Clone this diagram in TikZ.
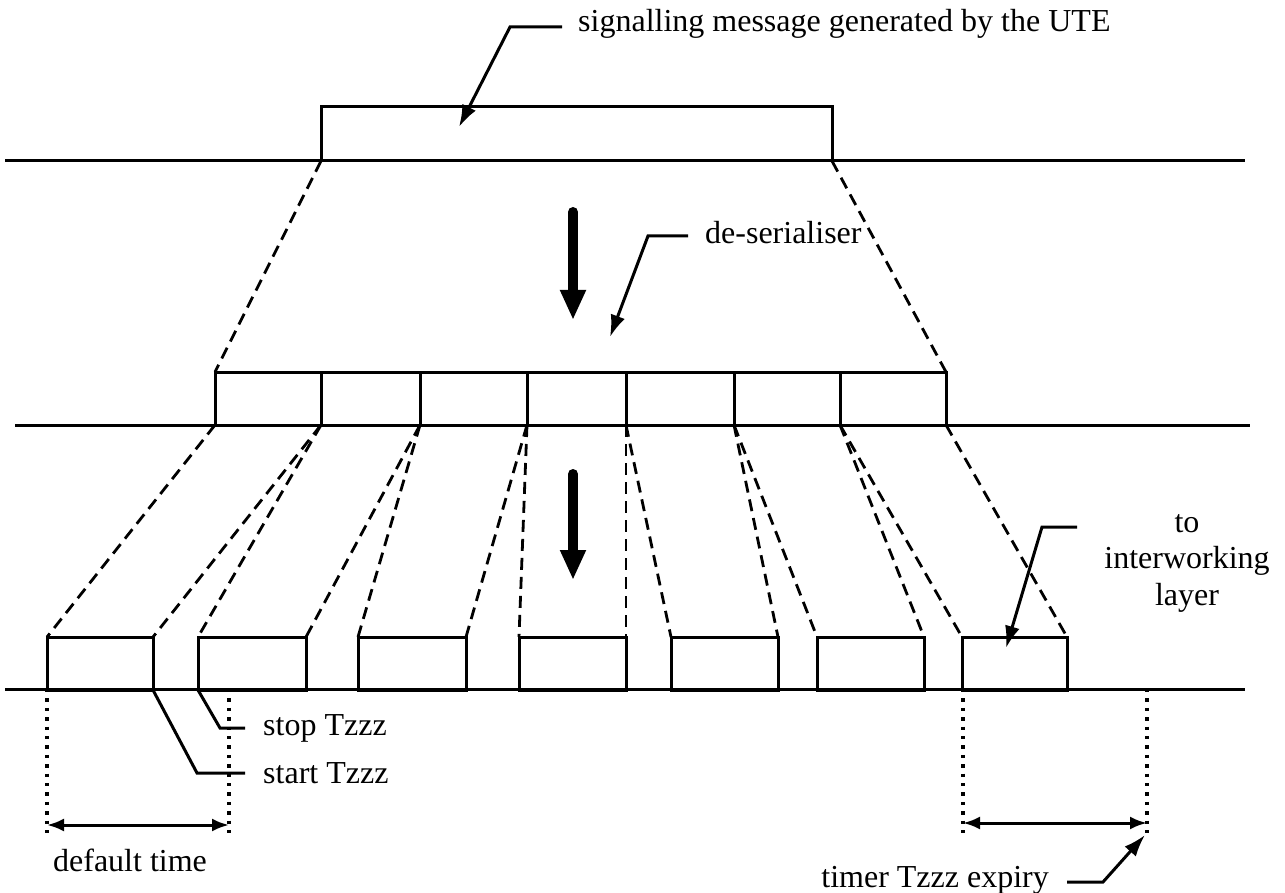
\documentclass[tikz,border=0pt]{standalone}
\usepackage{fontspec}
\setmainfont{Liberation Serif}
\usetikzlibrary{arrows.meta}
\begin{document}
\begin{tikzpicture}[x=1pt,y=-1pt,
  box/.style={draw,line width=3pt,inner sep=0pt,outer sep=0pt,anchor=north west,minimum height=53pt},
  baseln/.style={line width=3pt},
  dashln/.style={line width=2.8pt,dash pattern=on 12pt off 7pt},
  dotln/.style={line width=3.4pt,dash pattern=on 3.4pt off 6pt},
  leader/.style={line width=3pt,-{Latex[length=22pt,width=15pt]}},
  plainlead/.style={line width=3pt},
  bigarrow/.style={line width=10pt,line cap=round,-{Triangle[length=30pt,width=24pt]}},
  dimarrow/.style={line width=3pt,{Latex[length=17pt,width=13pt]}-{Latex[length=17pt,width=13pt]}},
  lbl/.style={font=\fontsize{32}{37}\selectfont,inner sep=0pt},
  ]
\useasboundingbox (0,0) rectangle (1285,893);

% base lines
\draw[baseln] (5,161) -- (1245,161);
\draw[baseln] (15,425) -- (1250,425);
\draw[baseln] (5,689) -- (1245,689);

% top message box
\node[box,minimum width=511pt,minimum height=54pt] (top) at (321,107) {};

% middle boxes
\node[box,minimum width=106pt] (m1) at (215,372) {};
\node[box,minimum width=99pt]  (m2) at (321,372) {};
\node[box,minimum width=107pt] (m3) at (420,372) {};
\node[box,minimum width=99pt]  (m4) at (527,372) {};
\node[box,minimum width=108pt] (m5) at (626,372) {};
\node[box,minimum width=106pt] (m6) at (734,372) {};
\node[box,minimum width=106pt] (m7) at (840,372) {};

% bottom boxes
\node[box,minimum width=106pt] (b1) at (47,637) {};
\node[box,minimum width=108pt] (b2) at (198,637) {};
\node[box,minimum width=108pt] (b3) at (358,637) {};
\node[box,minimum width=107pt] (b4) at (519,637) {};
\node[box,minimum width=107pt] (b5) at (671,637) {};
\node[box,minimum width=107pt] (b6) at (817,637) {};
\node[box,minimum width=105pt] (b7) at (962,637) {};

% dashed projections
\draw[dashln] (top.south west) -- (m1.north west);
\draw[dashln] (top.south east) -- (m7.north east);
\foreach \i in {1,...,7}{
  \draw[dashln] (m\i.south west) -- (b\i.north west);
  \draw[dashln] (m\i.south east) -- (b\i.north east);
}

% big arrows
\coordinate (a1s) at (573,212);
\coordinate (a1e) at (573,320);
\coordinate (a2s) at (573,474);
\coordinate (a2e) at (573,580);
\draw[bigarrow] (a1s) -- (a1e);
\draw[bigarrow] (a2s) -- (a2e);

% label: signalling message
\node[lbl,anchor=west] (sig) at (578,24) {signalling message generated by the UTE};
\coordinate (sigA) at (562,27);
\coordinate (sigB) at (510,27);
\coordinate (sigT) at (459,127);
\draw[leader] (sigA) -- (sigB) -- (sigT);

% label: de-serialiser
\node[lbl,anchor=west] (des) at (705,233) {de-serialiser};
\coordinate (desA) at (688,236);
\coordinate (desB) at (648,236);
\coordinate (desT) at (610,337);
\draw[leader] (desA) -- (desB) -- (desT);

% label: to interworking layer
\node[lbl,align=center,font=\fontsize{32}{36.5}\selectfont] (iw) at (1187,563) {to\\interworking\\layer};
\coordinate (iwA) at (1077,527);
\coordinate (iwB) at (1042,527);
\coordinate (iwT) at (1006,648);
\draw[leader] (iwA) -- (iwB) -- (iwT);

% stop / start Tzzz
\node[lbl,anchor=west] (stop) at (263,728) {stop Tzzz};
\node[lbl,anchor=west] (start) at (263,773) {start Tzzz};
\coordinate (stB) at (220,728);
\coordinate (stE) at (245,728);
\coordinate (saB) at (197,773);
\coordinate (saE) at (245,773);
\draw[plainlead] (b2.south west) -- (stB) -- (stE);
\draw[plainlead] (b1.south east) -- (saB) -- (saE);

% default time
\coordinate (d1t) at (47,689);
\coordinate (d1b) at (47,835);
\coordinate (d2t) at (229,689);
\coordinate (d2b) at (229,835);
\draw[dotln] (d1t) -- (d1b);
\draw[dotln] (d2t) -- (d2b);
\coordinate (dl) at (47,825);
\coordinate (dr) at (229,825);
\draw[dimarrow] (dl) -- (dr);
\node[lbl] (dft) at (130,860) {default time};

% timer expiry
\coordinate (e1t) at (963,689);
\coordinate (e1b) at (963,835);
\coordinate (e2t) at (1147,689);
\coordinate (e2b) at (1147,835);
\draw[dotln] (e1t) -- (e1b);
\draw[dotln] (e2t) -- (e2b);
\coordinate (el) at (963,823);
\coordinate (er) at (1147,823);
\draw[dimarrow] (el) -- (er);
\node[lbl,anchor=east] (exp) at (1049,880) {timer Tzzz expiry};
\coordinate (exA) at (1067,882);
\coordinate (exB) at (1103,882);
\coordinate (exT) at (1145,835);
\draw[leader] (exA) -- (exB) -- (exT);
\end{tikzpicture}
\end{document}
